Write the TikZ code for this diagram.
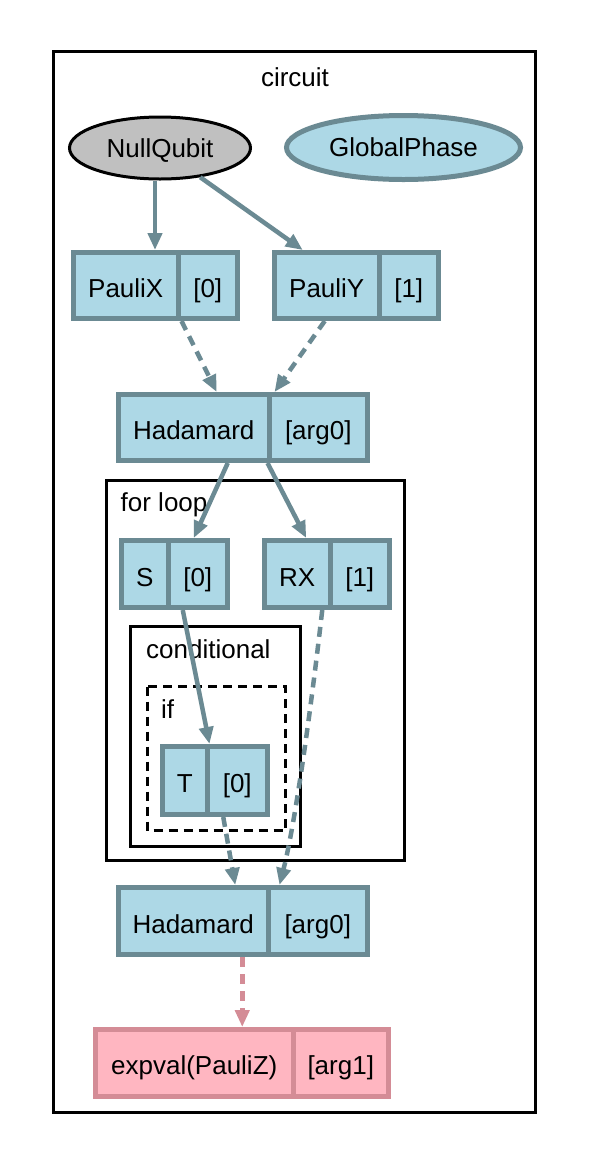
\documentclass[tikz,border=0pt]{standalone}
\usepackage{fontspec}
\setmainfont{Liberation Sans}
\usetikzlibrary{arrows.meta,shapes.geometric,calc}
\definecolor{qblue}{HTML}{ADD8E6}
\definecolor{qslate}{HTML}{6B8A93}
\definecolor{qpink}{HTML}{FFB6C1}
\definecolor{qpinkd}{HTML}{D48C96}
\definecolor{qgray}{HTML}{C0C0C0}
\newcommand{\qrec}[9]{%
 \pgfmathsetmacro\qa{(#3+2.5+#4)/2}%
 \pgfmathsetmacro\qb{#4-#3-2.5}%
 \pgfmathsetmacro\qc{(#4+#5-2.5)/2}%
 \pgfmathsetmacro\qd{#5-2.5-#4}%
 \pgfmathsetmacro\qe{(#6+#7)/2}%
 \pgfmathsetmacro\qf{#7-#6-5}%
 \node[#2, minimum width=\qb pt, minimum height=\qf pt] (#1) at (\qa,\qe) {#8};
 \node[#2, minimum width=\qd pt, minimum height=\qf pt] (#1i) at (\qc,\qe) {#9};
}
\tikzset{
 qfont/.style={font=\fontsize{26}{30}\selectfont},
 recb/.style={qfont, rectangle, draw=qslate, fill=qblue, line width=5pt, inner sep=0pt, text height=24pt, text depth=0pt},
 recp/.style={qfont, rectangle, draw=qpinkd, fill=qpink, line width=5pt, inner sep=0pt, text height=22pt, text depth=0pt},
 cluster/.style={draw=black, line width=3.2pt},
 lbl/.style={qfont, inner sep=0pt},
 qedge/.style={draw=qslate, line width=4.5pt, -{Triangle[length=17pt,width=14pt]}},
 qedgep/.style={draw=qpinkd, line width=4.5pt, -{Triangle[length=17pt,width=14pt]}},
 qdash/.style={dash pattern=on 10pt off 7pt},
}
\begin{document}
\begin{tikzpicture}[x=1pt,y=-1pt]
\fill[white] (0,0) rectangle (589,1168);
\useasboundingbox (0,0) rectangle (589,1168);
% clusters
\draw[cluster] (53.5,51.5) rectangle (535.5,1112.5);
\draw[cluster] (106.5,480.5) rectangle (404.5,860.5);
\draw[cluster] (130.5,626.5) rectangle (300.5,846.5);
\draw[cluster, dash pattern=on 9pt off 6pt] (147.5,686.5) rectangle (285.5,830.5);
\node[lbl, anchor=base] (lcirc) at (295,86) {circuit};
\node[lbl, anchor=base west] (lfor) at (120.5,511.5) {for loop};
\node[lbl, anchor=base west] (lcond) at (146,658) {conditional};
\node[lbl, anchor=base west] (lif) at (161,718) {if};
% ellipses
\node[qfont, ellipse, draw=black, fill=qgray, line width=3pt, inner sep=0pt, minimum width=181pt, minimum height=62pt, text height=18.6pt, text depth=0pt] (nq) at (160,148) {NullQubit};
\node[qfont, ellipse, draw=qslate, fill=qblue, line width=5pt, inner sep=0pt, minimum width=234pt, minimum height=64pt, text height=18.6pt, text depth=0pt] (gp) at (403.5,147.5) {GlobalPhase};
% records
\qrec{px}{recb}{71}{178}{240}{250}{321}{PauliX}{[0]}
\qrec{py}{recb}{272}{379}{441}{250}{321}{PauliY}{[1]}
\qrec{ha}{recb}{116}{269}{370}{392}{463}{Hadamard}{[arg0]}
\qrec{sg}{recb}{119}{168}{230}{538}{610}{S}{[0]}
\qrec{rx}{recb}{262}{330}{392}{538}{610}{RX}{[1]}
\qrec{tg}{recb}{160}{207}{270}{744}{817}{T}{[0]}
\qrec{hb}{recb}{116}{268}{370}{885}{957}{Hadamard}{[arg0]}
\qrec{ev}{recp}{93}{293}{391}{1027}{1099}{expval(PauliZ)}{[arg1]}
% edges
\draw[qedge] ([xshift=-5pt]nq.south) -- ([xshift=29.25pt]px.north);
\draw[qedge] (nq.-36) -- ([xshift=-24pt]py.north);
\draw[qedge, qdash] ([xshift=1pt]px.south east) -- ([xshift=23pt]ha.north);
\draw[qedge, qdash] ([xshift=-2pt]py.south) -- ([xshift=3pt]ha.north east);
\draw[qedge] ([xshift=34pt]ha.south) -- ([xshift=-4pt]sgi.north);
\draw[qedge] ([xshift=-4pt]ha.south east) -- ([xshift=9pt]rx.north);
\draw[qedge] ([xshift=-15pt]sgi.south) -- (tg.north east);
\draw[qedge, qdash] ([xshift=25pt]rx.south) .. controls (312,700) and (296,820) .. ([xshift=9pt]hb.north east);
\draw[qedge, qdash] ([xshift=-14pt]tgi.south) -- ([xshift=42pt]hb.north);
\draw[qedgep, qdash] ([xshift=49pt]hb.south) -- ([xshift=48pt]ev.north);
\end{tikzpicture}
\end{document}
